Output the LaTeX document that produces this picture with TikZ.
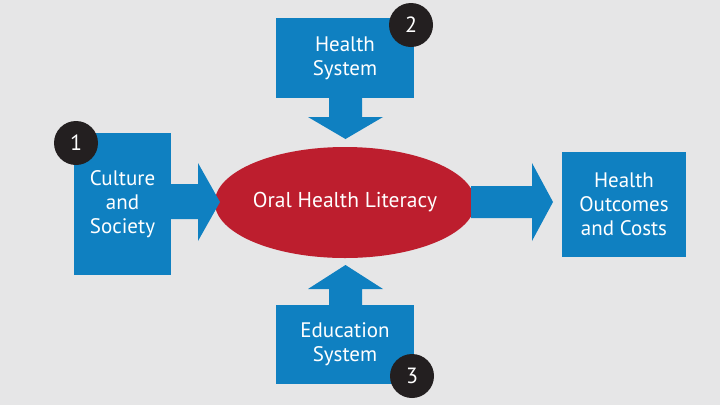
\documentclass[tikz,border=0pt]{standalone}
\usepackage{fontspec}
\setmainfont{PT Sans}
\usetikzlibrary{shapes.geometric}
\definecolor{bgc}{HTML}{E6E6E7}
\definecolor{bluec}{HTML}{0F80C1}
\definecolor{redc}{HTML}{BD1E2E}
\definecolor{darkc}{HTML}{231F20}
\begin{document}
\begin{tikzpicture}[x=1pt,y=-1pt,
  boxnode/.style={fill=bluec,inner sep=0pt,align=center,text=white,
    font=\fontsize{21}{24}\selectfont},
  fatarrow/.style={fill=bluec},
  numcirc/.style={circle,fill=darkc,inner sep=0pt,minimum size=44pt,text=white,
    font=\fontsize{22}{24}\selectfont},
  ovalnode/.style={ellipse,fill=redc,inner sep=0pt,minimum width=234pt,minimum height=111pt,
    text=white,font=\fontsize{21.5}{24}\selectfont}]
\fill[bgc] (0,0) rectangle (720,405);
\useasboundingbox (0,0) rectangle (720,405);
% central oval
\node[ovalnode] (ohl) at (345,202.5) {Oral Health Literacy};
% arrow tips
\coordinate (ltip) at (220,202);
\coordinate (ttip) at (345.5,139);
\coordinate (btip) at (345.5,265);
\coordinate (rtip) at (553,202);
% arrows
\fill[fatarrow] (170,184) -- (198,184) -- (198,163) -- (ltip) -- (198,241) -- (198,219) -- (170,219) -- cycle;
\fill[fatarrow] (329,97) -- (329,117) -- (308,117) -- (ttip) -- (383,117) -- (362,117) -- (362,97) -- cycle;
\fill[fatarrow] (329,306) -- (329,289) -- (308,289) -- (btip) -- (383,289) -- (362,289) -- (362,306) -- cycle;
\fill[fatarrow] (471,186) -- (532,186) -- (532,163) -- (rtip) -- (532,241) -- (532,218) -- (471,218) -- cycle;
% boxes
\node[boxnode,minimum width=97pt,minimum height=142pt] (cult) at (122.5,204) {Culture\\and\\Society};
\node[boxnode,minimum width=138pt,minimum height=80pt] (hsys) at (345,58) {Health\\System};
\node[boxnode,minimum width=138pt,minimum height=79pt] (esys) at (345,344.5) {Education\\System};
\node[boxnode,minimum width=124pt,minimum height=105pt] (hoc) at (624,204.5) {Health\\Outcomes\\and Costs};
% number circles
\node[numcirc] (n1) at (76,143) {1};
\node[numcirc] (n2) at (411,25) {2};
\node[numcirc] (n3) at (412,376) {3};
\end{tikzpicture}
\end{document}
